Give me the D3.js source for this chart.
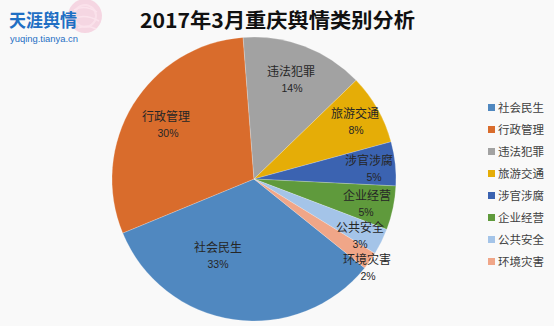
<!DOCTYPE html>
<html>
<head>
<meta charset="utf-8">
<script src="https://cdn.jsdelivr.net/npm/d3@7"></script>
<style>
html,body{margin:0;padding:0;background:#f9f9f9;}
svg{display:block;}
</style>
</head>
<body>
<svg id="chart" width="554" height="326"></svg>
<script>
// ---- data ----
const categories = ["社会民生","行政管理","违法犯罪","旅游交通","涉官涉腐","企业经营","公共安全","环境灾害"];
const shares = [33, 30, 14, 8, 5, 5, 3, 2];
const colors = ["#5088c0","#d96c2c","#a2a2a2","#e5ad07","#3b63b1","#5f9a3c","#a4c4e8","#f0a688"];
const titleText = "2017年3月重庆舆情类别分析";

// ---- layout ----
const W = 554, H = 326;
const cx = 254, cy = 179, R = 142;
const startDeg = 128.8;
// label anchor offsets (relative to pie centre) for each slice's data label
const labelOffsets = [[-36,69],[-88,-62],[37,-107],[101,-65],[115,-18],[113,17],[106,49],[113,81]];
const pctOffsets = [0,2,1,1,5,-1,0,1];

const svg = d3.select("#chart");
svg.append("rect").attr("width",W).attr("height",H).attr("fill","#f9f9f9");

// logo
const logo = svg.append("g");
logo.append("circle").attr("cx",85).attr("cy",16).attr("r",17).attr("fill","#f3b9cf").attr("opacity",0.55);
logo.append("circle").attr("cx",85).attr("cy",16).attr("r",11).attr("fill","none").attr("stroke","#fbe3ec").attr("stroke-width",2).attr("opacity",0.8);
logo.append("path").attr("d","M74,10 Q85,4 97,12 M72,19 Q85,13 99,21 M78,28 Q87,24 96,29").attr("stroke","#fbe3ec").attr("fill","none").attr("stroke-width",1.5);
logo.append("text").attr("x",9).attr("y",27).text("天涯舆情")
  .attr("font-family","'Noto Sans CJK SC'").attr("font-weight","bold").attr("font-size",18)
  .attr("fill","#1f6fc4").attr("textLength",68).attr("lengthAdjust","spacingAndGlyphs");
logo.append("text").attr("x",10).attr("y",42).text("yuqing.tianya.cn")
  .attr("font-family","'Liberation Sans', Arial").attr("font-size",9)
  .attr("fill","#1f6fc4").attr("textLength",68).attr("lengthAdjust","spacingAndGlyphs");

// title
svg.append("text").attr("x",277.5).attr("y",28).attr("text-anchor","middle")
  .attr("font-family","'Noto Sans CJK SC'").attr("font-weight","bold").attr("font-size",20)
  .attr("fill","#111").attr("textLength",275).attr("lengthAdjust","spacingAndGlyphs")
  .text(titleText);

// pie
const data = categories.map((c,i)=>({name:c, value:shares[i], color:colors[i], i}));
const total = d3.sum(shares);
const pie = d3.pie().value(d=>d.value).sort(null)
  .startAngle(startDeg*Math.PI/180).endAngle(startDeg*Math.PI/180 + 2*Math.PI);
const arc = d3.arc().innerRadius(0).outerRadius(R);
const g = svg.append("g").attr("transform",`translate(${cx},${cy})`);
const arcs = pie(data);
g.selectAll("path").data(arcs).join("path")
  .attr("d",arc).attr("fill",d=>d.data.color)
  .attr("stroke","#ffffff").attr("stroke-opacity",0.35).attr("stroke-width",0.6);

const fmt = d3.format(".0%");
const lab = g.selectAll("g.lab").data(arcs).join("g").attr("class","lab")
  .attr("transform",d=>`translate(${labelOffsets[d.data.i][0]},${labelOffsets[d.data.i][1]})`);
lab.append("text").attr("text-anchor","middle").attr("y",4)
  .attr("font-family","'Noto Sans CJK SC'").attr("font-size",12).attr("fill","#262626")
  .text(d=>d.data.name);
lab.append("text").attr("text-anchor","middle").attr("y",20).attr("x",d=>pctOffsets[d.data.i])
  .attr("font-family","'Liberation Sans', Arial").attr("font-size",10.5).attr("fill","#262626")
  .text(d=>fmt(d.data.value/total));

// legend
const legY = d3.scalePoint().domain(categories).range([107,261]);
const leg = svg.append("g").selectAll("g").data(data).join("g")
  .attr("transform",d=>`translate(488,${legY(d.name)})`);
leg.append("rect").attr("x",0).attr("y",-3).attr("width",7).attr("height",7).attr("fill",d=>d.color);
leg.append("text").attr("x",10).attr("y",4.5)
  .attr("font-family","'Noto Sans CJK SC'").attr("font-size",11.5).attr("fill","#404040")
  .text(d=>d.name);
</script>
</body>
</html>
